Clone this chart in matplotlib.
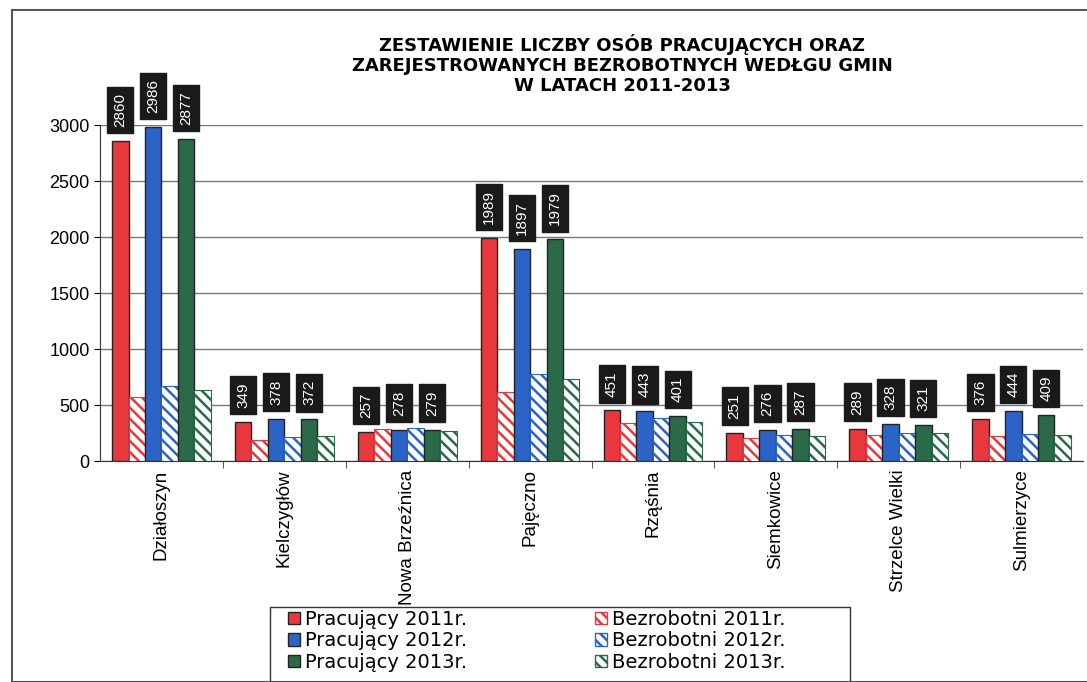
import matplotlib.pyplot as plt
import numpy as np
from matplotlib.patches import Rectangle, Patch

plt.rcParams['font.family'] = ['Liberation Sans', 'DejaVu Sans']

gminy = ["Działoszyn", "Kielczygłów", "Nowa Brzeźnica", "Pajęczno",
         "Rząśnia", "Siemkowice", "Strzelce Wielki", "Sulmierzyce"]

prac_2011 = [2860, 349, 257, 1989, 451, 251, 289, 376]
bezr_2011 = [571, 187, 286, 616, 339, 205, 232, 223]
prac_2012 = [2986, 378, 278, 1897, 443, 276, 328, 444]
bezr_2012 = [670, 214, 295, 777, 384, 232, 250, 241]
prac_2013 = [2877, 372, 279, 1979, 401, 287, 321, 409]
bezr_2013 = [634, 223, 265, 732, 348, 223, 250, 232]

red = "#e8383d"
blue = "#2b63c6"
green = "#2a6a48"

fig = plt.figure(figsize=(10.87, 6.82), dpi=100)
ax = fig.add_axes([100/1087, 1-461/682, (1083-100)/1087, (461-125)/682])

x = np.arange(len(gminy))
w = 0.134
series = [
    (prac_2011, red, False, "Pracujący 2011r."),
    (bezr_2011, red, True, "Bezrobotni 2011r."),
    (prac_2012, blue, False, "Pracujący 2012r."),
    (bezr_2012, blue, True, "Bezrobotni 2012r."),
    (prac_2013, green, False, "Pracujący 2013r."),
    (bezr_2013, green, True, "Bezrobotni 2013r."),
]
plt.rcParams['hatch.linewidth'] = 1.8
for i, (vals, col, hatched, lab) in enumerate(series):
    pos = x + (i - 2.5) * w
    if hatched:
        ax.bar(pos, vals, w, facecolor="white", edgecolor=col, hatch="\\\\\\",
               linewidth=0.8, zorder=3)
    else:
        ax.bar(pos, vals, w, color=col, edgecolor="#222222", linewidth=1.0, zorder=3)
        for p, v in zip(pos, vals):
            ax.annotate(str(v), (p, v), xytext=(0, 10), textcoords="offset points",
                        rotation=90, ha="center", va="bottom", color="white",
                        fontsize=11, annotation_clip=False,
                        bbox=dict(boxstyle="square,pad=0.4", fc="#1a1a1a", ec="#1a1a1a"))

ax.set_ylim(0, 3000)
ax.set_xlim(-0.5, len(gminy) - 0.5)
ax.set_yticks(np.arange(0, 3001, 500))
ax.yaxis.grid(True, color="#777777", linewidth=1.0, zorder=0)
ax.tick_params(axis="y", labelsize=13, length=4)
ax.set_xticks(x)
ax.set_xticklabels(gminy, rotation=90, fontsize=13.5)
ax.tick_params(axis="x", length=0, pad=6)
ax.set_xticks(np.arange(0.5, len(gminy) - 0.5, 1), minor=True)
ax.tick_params(axis="x", which="minor", length=5, color="#333333")
for s in ["top", "right"]:
    ax.spines[s].set_visible(False)
ax.spines["left"].set_color("#333333")
ax.spines["bottom"].set_color("#333333")

fig.text(622/1087, 1-34/682,
         "ZESTAWIENIE LICZBY OSÓB PRACUJĄCYCH ORAZ\nZAREJESTROWANYCH BEZROBOTNYCH WEDŁGU GMIN\nW LATACH 2011-2013",
         ha="center", va="top", fontsize=13, fontweight="bold", linespacing=1.15,
         family="DejaVu Sans")

handles = []
for vals, col, hatched, lab in series:
    if hatched:
        handles.append(Patch(facecolor="white", edgecolor=col, hatch="\\\\\\", label=lab))
    else:
        handles.append(Patch(facecolor=col, edgecolor="#222222", label=lab))
order = [0, 2, 4, 1, 3, 5]
fig.legend([handles[i] for i in order], [series[i][3] for i in order], ncol=2,
           loc="upper left", bbox_to_anchor=(288/1087, 1-610/682),
           prop={"family": "DejaVu Sans", "size": 14},
           frameon=False, borderpad=0,
           handlelength=0.6, handleheight=0.6, handletextpad=0.25, columnspacing=6.6,
           labelspacing=0.12, borderaxespad=0)
# legend frame, cut off by the bottom edge like in the scan
fig.patches.append(Rectangle((270/1087, -0.05), 580/1087, 0.05+1-607/682,
                             transform=fig.transFigure, fill=False,
                             edgecolor="#333333", linewidth=1.0))

fig.patches.append(Rectangle((12/1087, 0), 1, 1-10/682, transform=fig.transFigure,
                             fill=False, edgecolor="#555555", linewidth=1.5))

fig.savefig("out.png", dpi=100)
